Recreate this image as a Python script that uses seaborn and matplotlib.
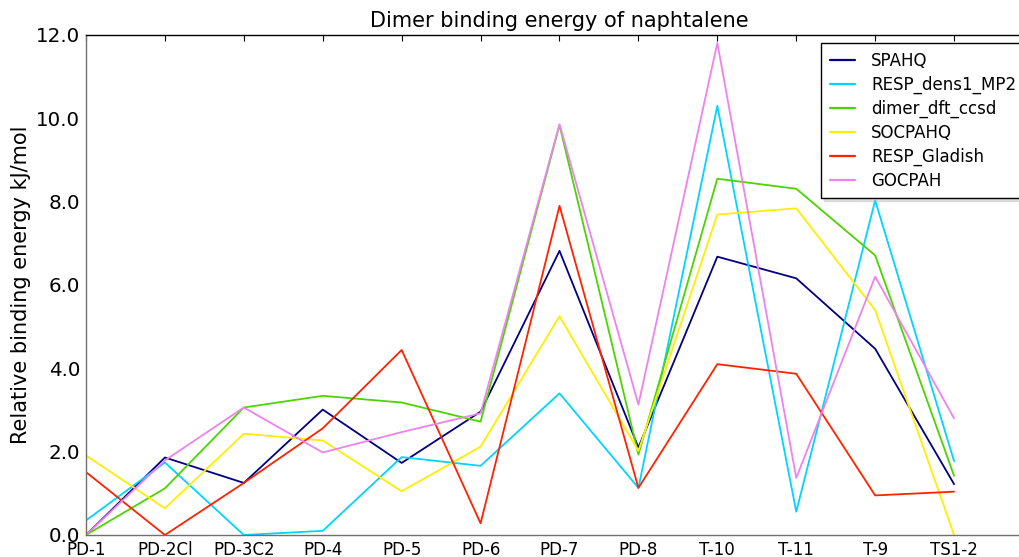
import matplotlib
matplotlib.use("Agg")
import matplotlib.pyplot as plt
from matplotlib.ticker import FormatStrFormatter
import numpy as np
import pandas as pd
import seaborn as sns

# Conformers of the naphthalene dimer
conformers = ["PD-1", "PD-2Cl", "PD-3C2", "PD-4", "PD-5", "PD-6",
              "PD-7", "PD-8", "T-10", "T-11", "T-9", "TS1-2"]

# Relative binding energies (kJ/mol) per force field / method
spahq = [0.00, 1.86, 1.25, 3.01, 1.73, 2.96, 6.82, 2.10, 6.68, 6.16, 4.47, 1.22]
resp_dens1_mp2 = [0.35, 1.74, 0.00, 0.10, 1.87, 1.66, 3.40, 1.13, 10.30, 0.56, 8.03, 1.77]
dimer_dft_ccsd = [0.00, 1.12, 3.06, 3.34, 3.18, 2.72, 9.84, 1.93, 8.55, 8.31, 6.71, 1.42]
socpahq = [1.91, 0.64, 2.43, 2.27, 1.05, 2.12, 5.25, 2.02, 7.69, 7.84, 5.40, 0.00]
resp_gladish = [1.51, 0.00, 1.25, 2.56, 4.44, 0.28, 7.90, 1.13, 4.10, 3.87, 0.95, 1.04]
gocpah = [0.00, 1.79, 3.06, 1.98, 2.47, 2.92, 9.86, 3.13, 11.81, 1.37, 6.20, 2.80]

series = {
    "SPAHQ": spahq,
    "RESP_dens1_MP2": resp_dens1_mp2,
    "dimer_dft_ccsd": dimer_dft_ccsd,
    "SOCPAHQ": socpahq,
    "RESP_Gladish": resp_gladish,
    "GOCPAH": gocpah,
}
palette = {
    "SPAHQ": "#000080",
    "RESP_dens1_MP2": "#00d4ff",
    "dimer_dft_ccsd": "#4cd400",
    "SOCPAHQ": "#ffee00",
    "RESP_Gladish": "#ff2200",
    "GOCPAH": "#ee82ee",
}

rows = []
for name, vals in series.items():
    for i, (c, v) in enumerate(zip(conformers, vals)):
        rows.append({"pos": i, "conformer": c, "method": name, "energy": v})
df = pd.DataFrame(rows)

sns.set_style("white")
plt.rcParams.update({
    "font.family": ["DejaVu Sans"],
    "text.color": "black",
    "axes.labelcolor": "black",
    "xtick.color": "black",
    "ytick.color": "black",
    "xtick.direction": "in",
    "ytick.direction": "in",
    "xtick.top": True,
    "ytick.right": True,
    "xtick.major.size": 4,
    "ytick.major.size": 4,
    "xtick.major.pad": 4,
    "ytick.major.pad": 4,
})

fig = plt.figure(figsize=(10.2, 5.57), dpi=100)
ax = fig.add_axes([86 / 1020, 22 / 557, 947 / 1020, 500 / 557])

sns.lineplot(data=df, x="pos", y="energy", hue="method", palette=palette,
             hue_order=list(series.keys()), sort=False, linewidth=1.3,
             estimator=None, ax=ax)

ax.set_xlim(0, len(conformers))
ax.set_ylim(0, 12)
ax.set_xticks(range(len(conformers)))
ax.set_xticklabels(conformers, fontsize=12)
ax.set_yticks(np.arange(0, 12.1, 2))
ax.yaxis.set_major_formatter(FormatStrFormatter("%.1f"))
ax.tick_params(axis="y", labelsize=14.3, color="black", labelcolor="black")
ax.tick_params(axis="x", color="black", labelcolor="black")

for side in ["left", "bottom"]:
    ax.spines[side].set_color("#707070")
for side in ["top", "right"]:
    ax.spines[side].set_color("black")
for s in ax.spines.values():
    s.set_linewidth(1.0)

ax.set_xlabel("")
ax.set_ylabel("Relative binding energy kJ/mol", fontsize=15, color="black")
ax.set_title("Dimer binding energy of naphtalene", fontsize=15, color="black")

leg = ax.legend(loc="upper right", fontsize=12, frameon=True, fancybox=False,
                shadow={"color": "0.7", "alpha": 0.4},
                handlelength=1.5, handletextpad=1.0,
                labelspacing=0.35, borderpad=0.5)
leg.get_frame().set_edgecolor("black")
leg.get_frame().set_linewidth(1.0)
for t in leg.get_texts():
    t.set_color("black")
for h in leg.get_lines():
    h.set_linewidth(1.6)

fig.savefig("out.png", dpi=100, facecolor="white")
